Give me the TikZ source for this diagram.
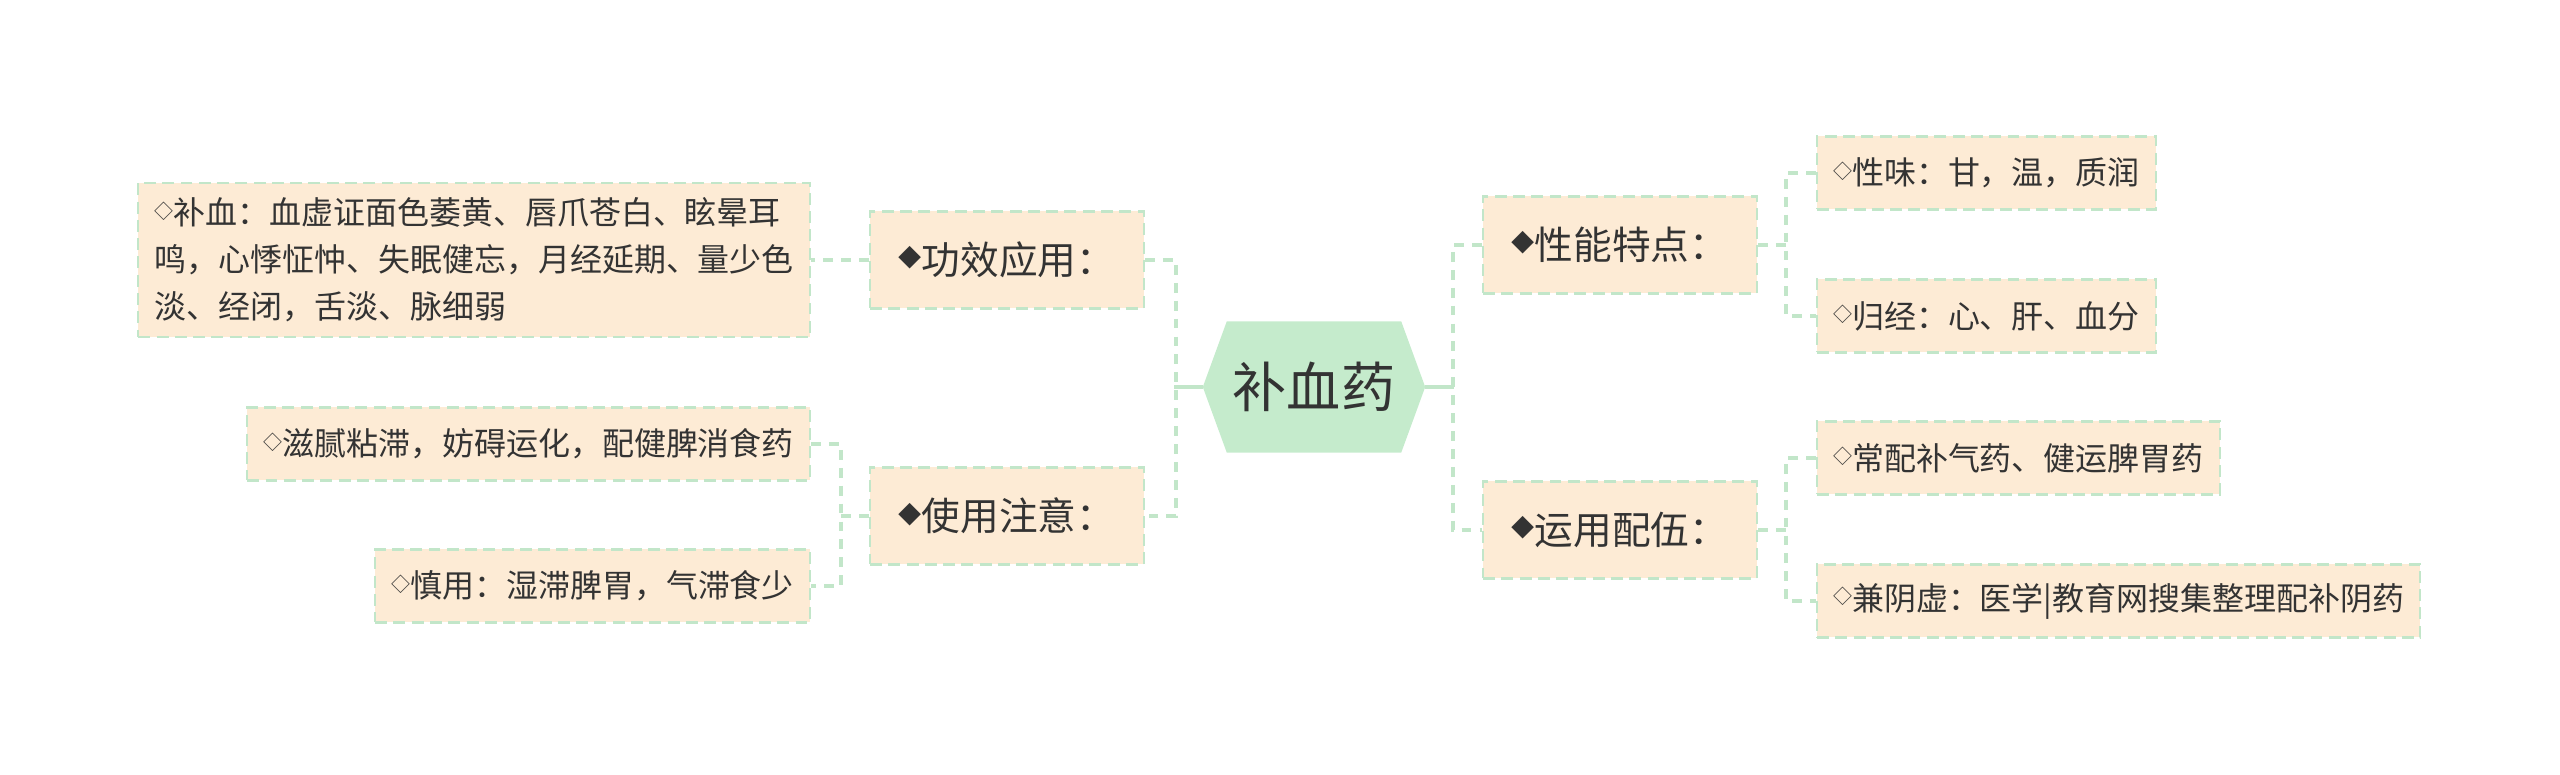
\documentclass[tikz,border=0pt]{standalone}
\usepackage{fontspec}
\setmainfont{Noto Sans CJK SC}
\usepackage{tikz}
\usetikzlibrary{positioning,calc,backgrounds}

\definecolor{leaffill}{HTML}{FDEBD5}
\definecolor{edgegreen}{HTML}{C2E6C9}
\definecolor{hubgreen}{HTML}{C5EBCC}
\definecolor{inkgrey}{HTML}{333333}

\newcommand{\leafmark}{\raisebox{0.2em}{\fontsize{5.4}{5.4}\selectfont ◇}}
\newcommand{\branchmark}{\raisebox{0.2em}{\fontsize{6.6}{6.6}\selectfont ◆}}

\begin{document}
\begin{tikzpicture}[
  font=\fontsize{9.1}{13.4}\selectfont,
  every node/.style={text=inkgrey},
  hub/.style={
    minimum width=2.21cm, minimum height=1.30cm, inner sep=0pt,
    font=\fontsize{15.4}{18}\selectfont
  },
  hubshape/.style={fill=hubgreen},
  branch/.style={
    rectangle, draw=edgegreen, fill=leaffill,
    dash pattern=on 3.4pt off 1.8pt, line width=0.6pt,
    minimum width=2.74cm, minimum height=0.97cm, inner sep=2pt,
    font=\fontsize{11}{13}\selectfont
  },
  leaf/.style={
    rectangle, draw=edgegreen, fill=leaffill,
    dash pattern=on 3.4pt off 1.8pt, line width=0.6pt,
    align=left, minimum height=0.73cm,
    inner xsep=0.16cm, inner ysep=0.15cm
  },
  link/.style={draw=edgegreen, line width=0.9pt, dash pattern=on 2.8pt off 2.3pt},
  stem/.style={draw=edgegreen, line width=0.9pt}
]

\useasboundingbox (0,0) rectangle (25.6,-7.75);

%% ── Centre: hexagon ────────────────────────────────────────────────
\node[hub] (root) at (13.14,-3.87) {补血药};
\begin{scope}[on background layer]
  \fill[hubshape] (root.west) -- ([xshift=0.24cm]root.north west)
    -- ([xshift=-0.24cm]root.north east) -- (root.east)
    -- ([xshift=-0.24cm]root.south east) -- ([xshift=0.24cm]root.south west) -- cycle;
\end{scope}

%% ── Left branches ──────────────────────────────────────────────────
\node[branch] (effect)  at (10.07,-2.60) {\branchmark 功效应用：};
\node[branch] (caution) at (10.07,-5.16) {\branchmark 使用注意：};

\draw[stem] (root.west) -- ++(-0.29,0);
\draw[link] (effect.east) -- ++(0.31,0) |- (caution.east);

%% ── Left leaves ────────────────────────────────────────────────────
\node[leaf, anchor=east] (bx) at (8.11,-2.60) {
  \leafmark 补血：血虚证面色萎黄、唇爪苍白、眩晕耳\\
  鸣，心悸怔忡、失眠健忘，月经延期、量少色\\
  淡、经闭，舌淡、脉细弱
};
\draw[link] (effect.west) -- (bx.east);

\node[leaf, anchor=east] (zn) at (8.11,-4.44) {\leafmark 滋腻粘滞，妨碍运化，配健脾消食药};
\node[leaf, anchor=east] (sy) at (8.11,-5.86) {\leafmark 慎用：湿滞脾胃，气滞食少};
\draw[link] (caution.west) -- ++(-0.29,0);
\draw[link] (zn.east) -- ++(0.30,0) |- (sy.east);

%% ── Right branches ─────────────────────────────────────────────────
\node[branch] (props) at (16.20,-2.45) {\branchmark 性能特点：};
\node[branch] (combo) at (16.20,-5.30) {\branchmark 运用配伍：};

\draw[stem] (root.east) -- ++(0.29,0);
\draw[link] (props.west) -- ++(-0.29,0) |- (combo.west);

%% ── Right leaves ───────────────────────────────────────────────────
\node[leaf, anchor=west] (xw) at (18.16,-1.73) {\leafmark 性味：甘，温，质润};
\node[leaf, anchor=west] (gj) at (18.16,-3.16) {\leafmark 归经：心、肝、血分};
\draw[link] (props.east) -- ++(0.29,0);
\draw[link] (xw.west) -- ++(-0.30,0) |- (gj.west);

\node[leaf, anchor=west] (cp) at (18.16,-4.58) {\leafmark 常配补气药、健运脾胃药};
\node[leaf, anchor=west] (jy) at (18.16,-6.01) {\leafmark 兼阴虚：医学|教育网搜集整理配补阴药};
\draw[link] (combo.east) -- ++(0.29,0);
\draw[link] (cp.west) -- ++(-0.30,0) |- (jy.west);

\end{tikzpicture}
\end{document}
